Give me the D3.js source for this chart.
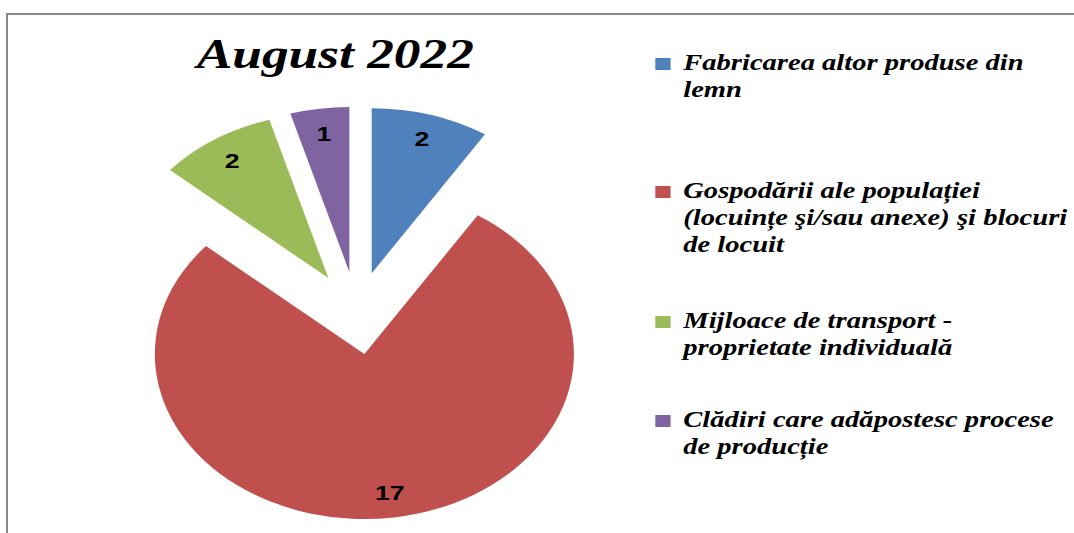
<!DOCTYPE html>
<html>
<head>
<meta charset="utf-8">
<script src="https://cdn.jsdelivr.net/npm/d3@7"></script>
<style>
  body { margin: 0; background: #fff; }
  svg { display: block; }
</style>
</head>
<body>
<div id="chart"></div>
<script>
// data
const title = "August 2022";
const categories = [
  "Fabricarea altor produse din\nlemn",
  "Gospodării ale populației\n(locuințe şi/sau anexe) şi blocuri\nde locuit",
  "Mijloace de transport -\nproprietate individuală",
  "Clădiri care adăpostesc procese\nde producție"
];
const values = [2, 17, 2, 1];
const colors = ["#4F81BD", "#C0504D", "#9BBB59", "#8064A2"];

// layout
const W = 1074, H = 533;
const sx = 1.27;               // the whole picture is stretched horizontally
const cx = 281, cy = 313;      // pie centre (inner coords)
const r = 165;
const explode = 41.5;
const legendX = 516, legendTextX = 538;
const legendBase = [70, 198, 328, 427];
const lineH = 27;

const svg = d3.select("#chart").append("svg")
  .attr("width", W).attr("height", H);

// outer frame (only top and left edges are visible)
svg.append("rect")
  .attr("x", 7).attr("y", 14)
  .attr("width", W + 20).attr("height", H + 20)
  .attr("fill", "none")
  .attr("stroke", "#888")
  .attr("stroke-width", 2);

const g = svg.append("g").attr("transform", `scale(${sx},1)`);

g.append("text")
  .attr("x", 264).attr("y", 68)
  .attr("text-anchor", "middle")
  .style("font-family", "'Liberation Serif', serif")
  .style("font-style", "italic")
  .style("font-weight", "bold")
  .style("font-size", "42px")
  .text(title);

const pie = d3.pie().sort(null).value(d => d);
const arcs = pie(values);
const arc = d3.arc().innerRadius(0).outerRadius(r);
const labelArc = d3.arc().innerRadius(r * 0.85).outerRadius(r * 0.85);

function offset(d) {
  const a = (d.startAngle + d.endAngle) / 2;
  return [Math.sin(a) * explode, -Math.cos(a) * explode];
}

const pieG = g.append("g").attr("transform", `translate(${cx},${cy})`);

const slice = pieG.selectAll("g.slice")
  .data(arcs)
  .join("g")
  .attr("class", "slice")
  .attr("transform", d => `translate(${offset(d)})`);

slice.append("path")
  .attr("d", arc)
  .attr("fill", (d, i) => colors[i]);

slice.append("text")
  .attr("transform", d => `translate(${labelArc.centroid(d)})`)
  .attr("text-anchor", "middle")
  .attr("dy", "0.36em")
  .style("font-family", "'Liberation Sans', Arial, sans-serif")
  .style("font-weight", "bold")
  .style("font-size", "21px")
  .attr("fill", "#000")
  .text(d => d.data);

// legend
const leg = g.selectAll("g.leg")
  .data(categories)
  .join("g")
  .attr("class", "leg");

leg.append("rect")
  .attr("x", legendX)
  .attr("y", (d, i) => legendBase[i] - 12)
  .attr("width", 12).attr("height", 12)
  .attr("fill", (d, i) => colors[i]);

leg.append("text")
  .attr("x", legendTextX)
  .attr("y", (d, i) => legendBase[i])
  .style("font-family", "'Liberation Serif', serif")
  .style("font-style", "italic")
  .style("font-weight", "bold")
  .style("font-size", "22.5px")
  .attr("fill", "#000")
  .selectAll("tspan")
  .data(d => d.split("\n"))
  .join("tspan")
  .attr("x", legendTextX)
  .attr("dy", (d, i) => i === 0 ? 0 : lineH)
  .text(d => d);
</script>
</body>
</html>
